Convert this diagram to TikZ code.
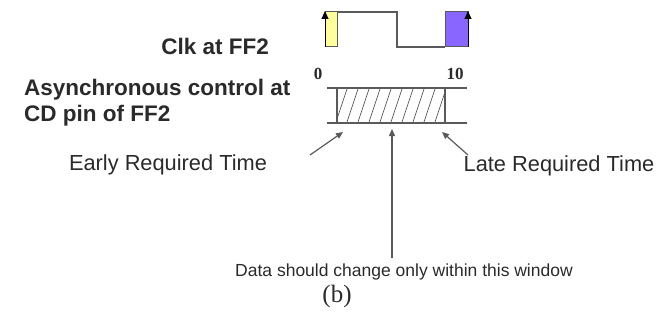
\documentclass[tikz,border=0pt]{standalone}
\usepackage{fontspec}
\setmainfont{Liberation Sans}
\newfontfamily\serifface{Liberation Serif}
\usetikzlibrary{arrows.meta}
\definecolor{wire}{HTML}{5A5A5A}
\definecolor{labeltext}{HTML}{2A2A2A}
\definecolor{risefill}{HTML}{FFFF99}
\definecolor{edgefill}{HTML}{8866FF}
\tikzset{
  wave/.style={draw=wire, line width=1.3pt},
  boxedge/.style={draw=wire, line width=1.1pt},
  hatchline/.style={draw=wire, line width=0.7pt},
  pointer/.style={draw=wire, line width=1.2pt, -{Triangle[length=7pt,width=6pt]}},
  edgemark/.style={draw=black, line width=1pt, -{Triangle[length=8pt,width=7pt]}},
  titletext/.style={font=\fontsize{22.5}{26}\selectfont\bfseries, text=labeltext, inner sep=0pt},
  labeltxt/.style={font=\fontsize{21.8}{24}\selectfont, text=labeltext, inner sep=0pt},
  notetxt/.style={font=\fontsize{17.5}{20}\selectfont, text=labeltext, inner sep=0pt},
  ticktxt/.style={font=\serifface\fontsize{17}{20}\selectfont\bfseries, text=labeltext, inner sep=0pt},
}
\begin{document}
\begin{tikzpicture}[x=1pt,y=-1pt]
\useasboundingbox (0,0) rectangle (672,321);

% clock waveform with highlighted rising edges
\filldraw[fill=risefill, draw=wire, line width=1pt] (325,12) rectangle (337,47);
\filldraw[fill=edgefill, draw=wire, line width=1pt] (445,12) rectangle (468,47);
\draw[wave] (337,12) -- (397,12) -- (397,47) -- (445,47);
\coordinate (r1a) at (325,47); \coordinate (r1b) at (325,11);
\coordinate (r2a) at (468,47); \coordinate (r2b) at (468,11);
\draw[edgemark] (r1a) -- (r1b);
\draw[edgemark] (r2a) -- (r2b);

% asynchronous control window
\draw[boxedge] (327,88) -- (467,88);
\draw[boxedge] (327,123) -- (467,123);
\begin{scope}
  \clip (337,88) rectangle (445,123);
  \foreach \k in {0,...,13}
    \draw[hatchline] (324+11*\k,125) -- (337+11*\k,86);
\end{scope}
\draw[boxedge] (337,88) -- (337,123);
\draw[boxedge] (445,88) -- (445,123);

\node[ticktxt] (t0) at (318,74) {0};
\node[ticktxt] (t10) at (455,74) {10};

% labels
\node[titletext, anchor=east] (clk) at (269,46) {Clk at FF2};
\node[titletext, anchor=west, align=left] (async) at (24,103)
  {Asynchronous control at\\[0pt]CD pin of FF2};
\node[labeltxt] (early) at (168,165) {Early Required Time};
\node[labeltxt] (late) at (559,166) {Late Required Time};
\node[notetxt] (data) at (404,272) {Data should change only within this window};
\node[font=\serifface\fontsize{25}{28}\selectfont, text=labeltext, inner sep=0pt] (cap) at (337,296) {(b)};

% pointers into the window
\coordinate (ea) at (310,155); \coordinate (eb) at (343,132);
\coordinate (la) at (468,155); \coordinate (lb) at (442,132);
\coordinate (da) at (392,258); \coordinate (db) at (392,129);
\draw[pointer] (ea) -- (eb);
\draw[pointer] (la) -- (lb);
\draw[pointer] (da) -- (db);
\end{tikzpicture}
\end{document}
